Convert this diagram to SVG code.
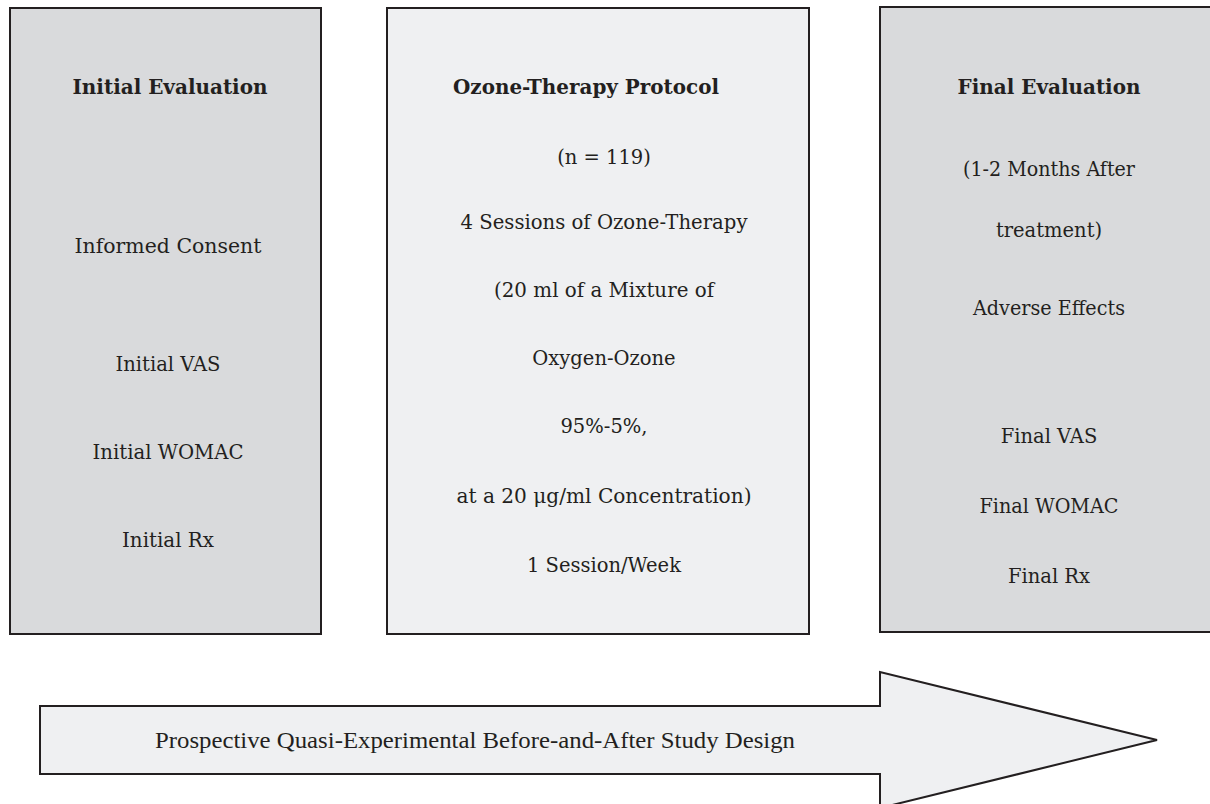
<svg xmlns="http://www.w3.org/2000/svg" width="1210" height="804" viewBox="0 0 1210 804">
<style>
.box{stroke:#231f20;stroke-width:2}
.dark{fill:#d9dadc}
.light{fill:#eff0f2}
text{font-family:"DejaVu Serif","Liberation Serif",serif;font-size:19.5px;fill:#231f20;text-anchor:middle;dominant-baseline:central}
.b{font-weight:bold}
.arrowtxt{font-family:"Liberation Serif",serif;font-size:23px}
</style>
<rect width="1210" height="804" fill="#ffffff"/>
<g id="initial-evaluation">
<rect class="box dark" x="10" y="8" width="311" height="626"/>
<text class="b" x="170" y="87" textLength="195" lengthAdjust="spacingAndGlyphs">Initial Evaluation</text>
<text x="168" y="246" textLength="187" lengthAdjust="spacingAndGlyphs">Informed Consent</text>
<text x="168" y="364" textLength="105" lengthAdjust="spacingAndGlyphs">Initial VAS</text>
<text x="168" y="452" textLength="151" lengthAdjust="spacingAndGlyphs">Initial WOMAC</text>
<text x="168" y="540" textLength="92" lengthAdjust="spacingAndGlyphs">Initial Rx</text>
</g>
<g id="ozone-therapy-protocol">
<rect class="box light" x="387" y="8" width="422" height="626"/>
<text class="b" x="586" y="87" textLength="266" lengthAdjust="spacingAndGlyphs">Ozone-Therapy Protocol</text>
<text x="604" y="157">(n = 119)</text>
<text x="604" y="222" textLength="287" lengthAdjust="spacingAndGlyphs">4 Sessions of Ozone-Therapy</text>
<text x="604" y="290" textLength="220" lengthAdjust="spacingAndGlyphs">(20 ml of a Mixture of</text>
<text x="604" y="358">Oxygen-Ozone</text>
<text x="604" y="426">95%-5%,</text>
<text x="604" y="496" textLength="295" lengthAdjust="spacingAndGlyphs">at a 20 μg/ml Concentration)</text>
<text x="604" y="565">1 Session/Week</text>
</g>
<g id="final-evaluation">
<rect class="box dark" x="880" y="7" width="340" height="625"/>
<text class="b" x="1049" y="87" textLength="183" lengthAdjust="spacingAndGlyphs">Final Evaluation</text>
<text x="1049" y="169" textLength="172" lengthAdjust="spacingAndGlyphs">(1-2 Months After</text>
<text x="1049" y="230">treatment)</text>
<text x="1049" y="308" textLength="152" lengthAdjust="spacingAndGlyphs">Adverse Effects</text>
<text x="1049" y="436">Final VAS</text>
<text x="1049" y="506" textLength="139" lengthAdjust="spacingAndGlyphs">Final WOMAC</text>
<text x="1049" y="576">Final Rx</text>
</g>
<g id="connectors">
<g id="study-design-arrow">
<polygon class="box light" points="40,706 880,706 880,672 1157,740 880,808 880,774 40,774"/>
<text class="arrowtxt" x="475" y="740" textLength="640" lengthAdjust="spacingAndGlyphs">Prospective Quasi-Experimental Before-and-After Study Design</text>
</g>
</g>
</svg>
